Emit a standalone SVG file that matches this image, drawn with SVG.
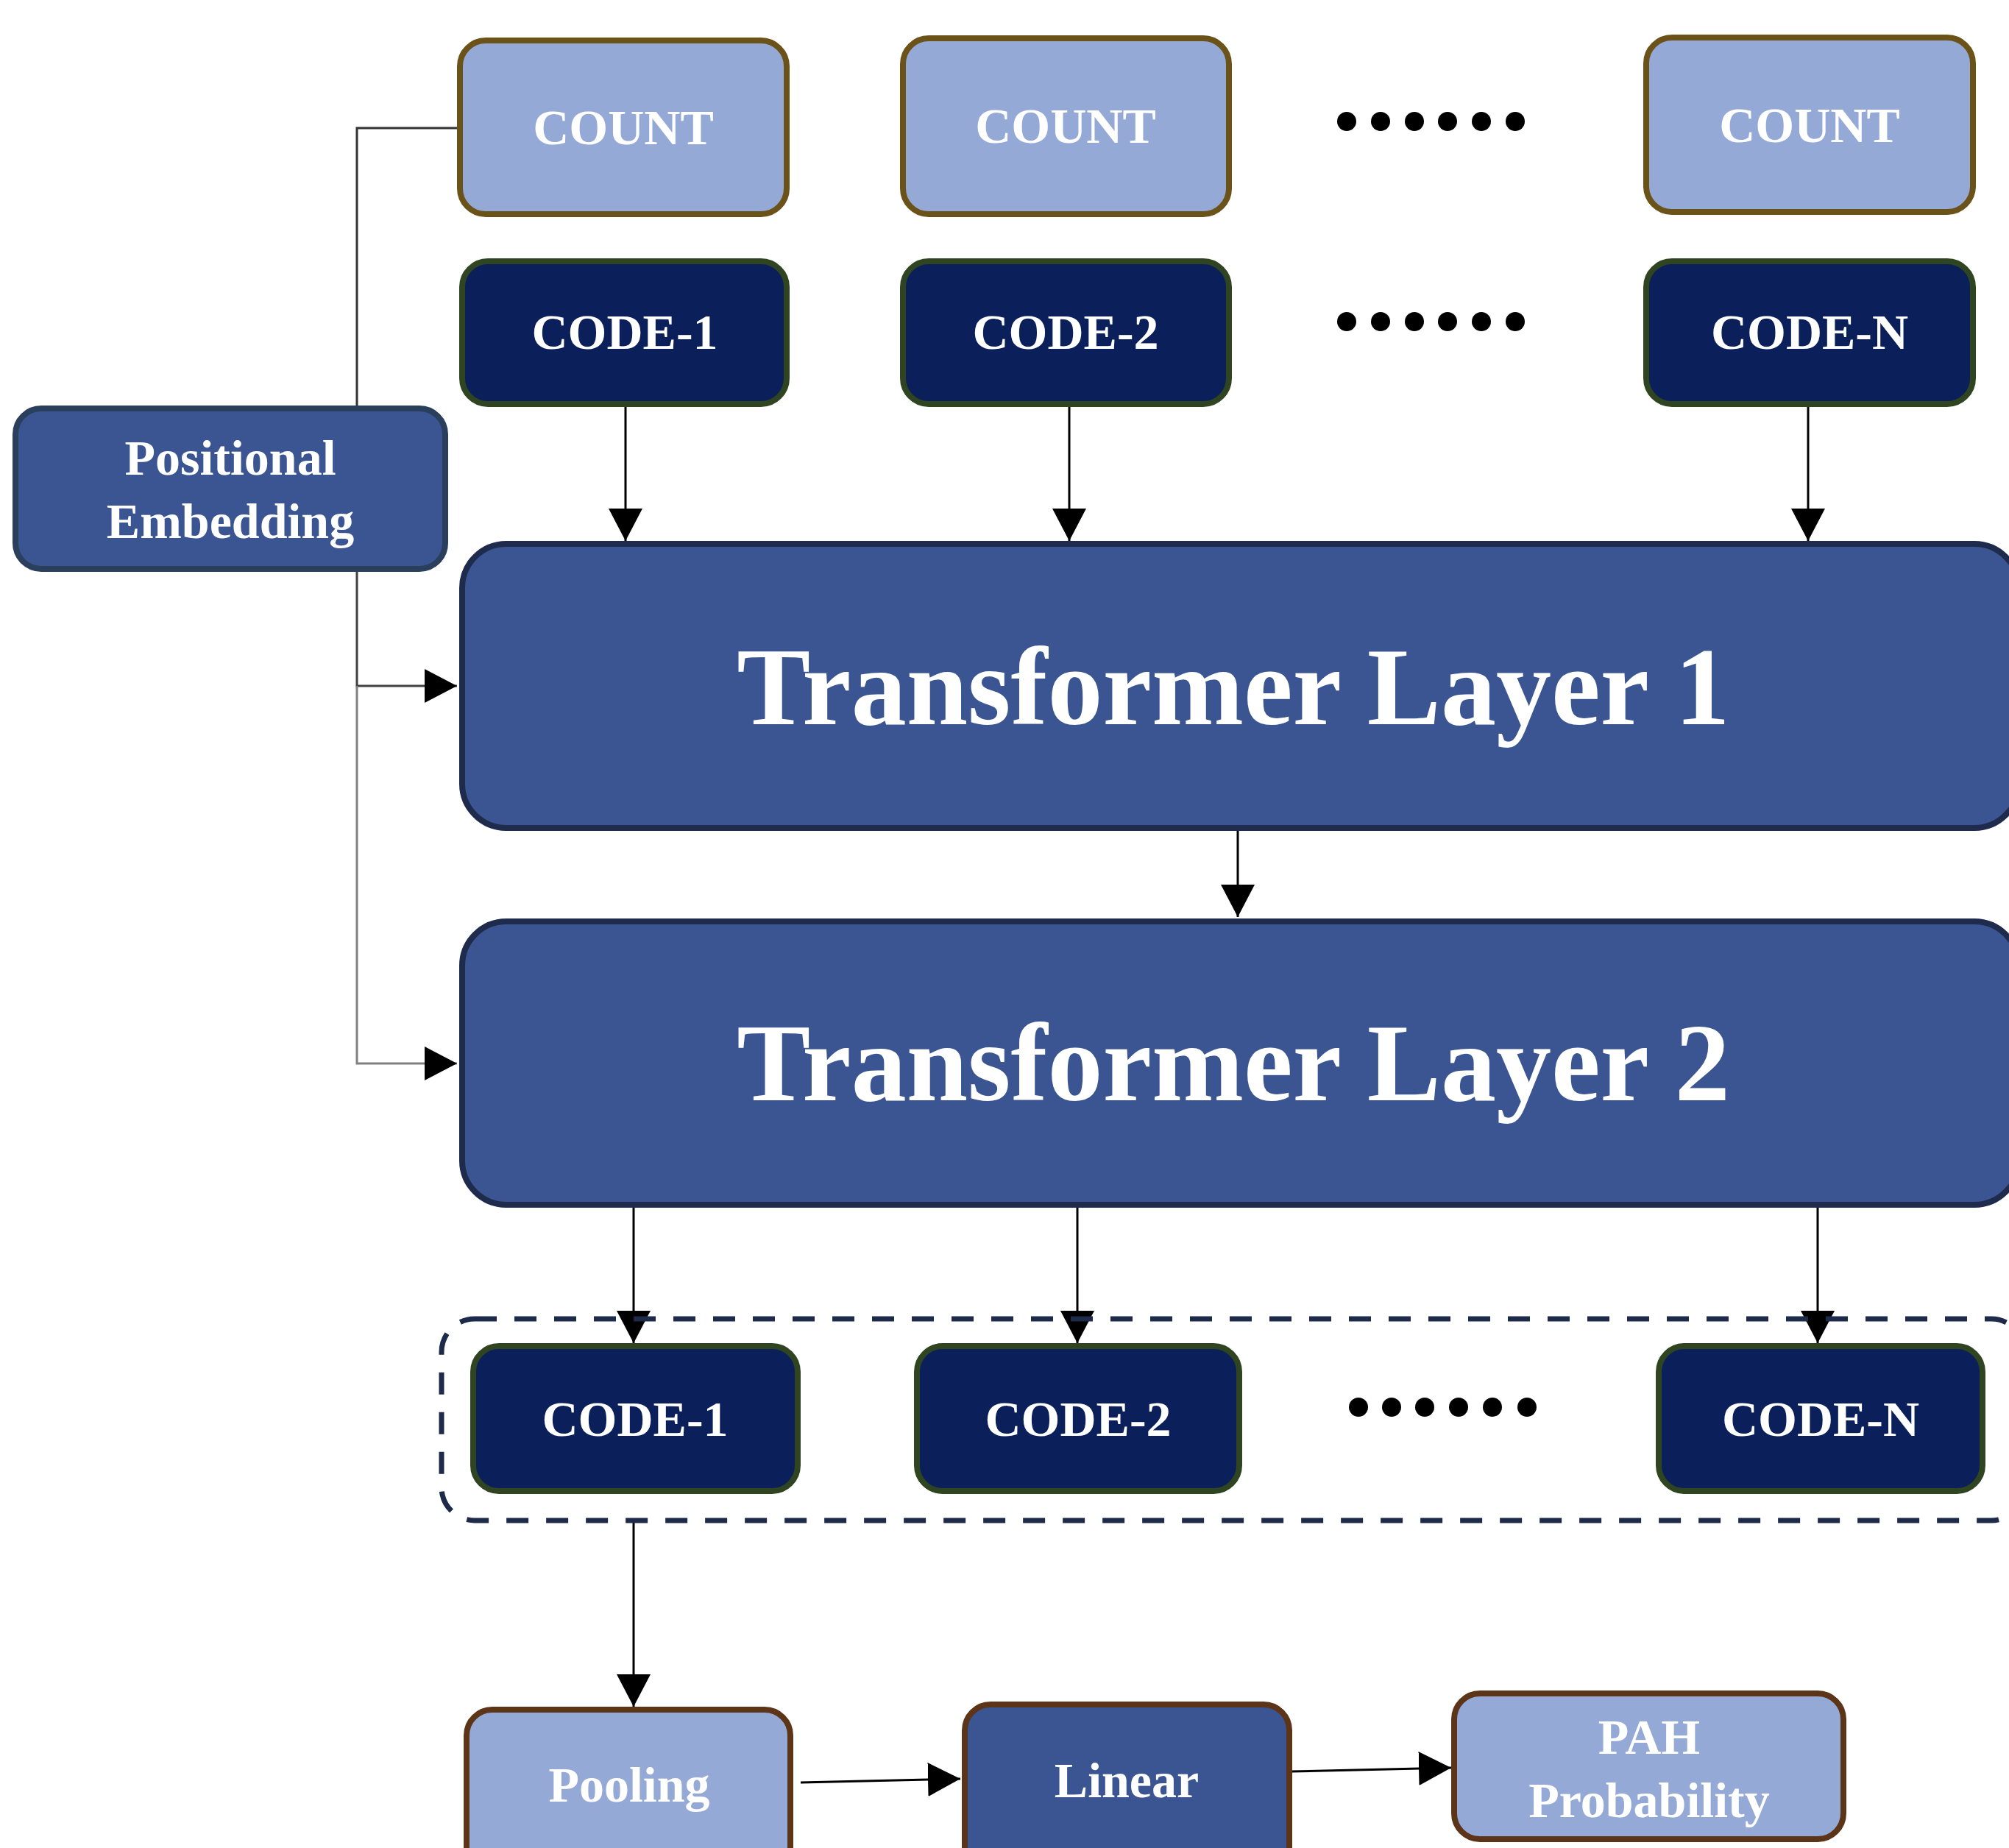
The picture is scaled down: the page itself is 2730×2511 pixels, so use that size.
<svg xmlns="http://www.w3.org/2000/svg" width="2730" height="2511" viewBox="0 0 2730 2511">
<style>
.t{font-family:"Liberation Serif","Times New Roman",serif;font-weight:bold;fill:#ffffff;text-anchor:middle}
.s{font-size:68px}
.big{font-size:150px}
.count{fill:#95a9d6;stroke:#6b5219;stroke-width:8}
.code{fill:#0b1f5a;stroke:#2f4420;stroke-width:8}
.tl{fill:#3a5591;stroke:#1f2b4d;stroke-width:8}
.pe{fill:#3a5591;stroke:#2a3f5c;stroke-width:8}
.lt{fill:#95a9d6;stroke:#5c3418;stroke-width:8}
.dk{fill:#3a5591;stroke:#5c3418;stroke-width:8}
.c{fill:none;stroke:#000;stroke-width:3}
.dot{fill:#000}
</style>
<defs>
<marker id="ah" markerUnits="userSpaceOnUse" markerWidth="46" markerHeight="46" viewBox="0 0 46 46" refX="44" refY="23" orient="auto">
<path d="M0,0 L44,23 L0,46 Z" fill="#000"/>
</marker>
</defs>
<rect width="2730" height="2511" fill="#ffffff"/>

<g id="connectors">
<path class="c" d="M621,174 H485 V554" style="stroke:#333"/>
<path class="c" d="M485,777 V932 H621" style="stroke:#404040" marker-end="url(#ah)"/>
<path class="c" d="M485,932 V1445 H621" style="stroke:#808080" marker-end="url(#ah)"/>
<line class="c" x1="850" y1="553" x2="850" y2="735" marker-end="url(#ah)"/>
<line class="c" x1="1453" y1="553" x2="1453" y2="735" marker-end="url(#ah)"/>
<line class="c" x1="2457" y1="553" x2="2457" y2="735" marker-end="url(#ah)"/>
<line class="c" x1="1682" y1="1128" x2="1682" y2="1246" marker-end="url(#ah)"/>
<line class="c" x1="861" y1="1641" x2="861" y2="1825" marker-end="url(#ah)"/>
<line class="c" x1="1464" y1="1641" x2="1464" y2="1825" marker-end="url(#ah)"/>
<line class="c" x1="2470" y1="1641" x2="2470" y2="1825" marker-end="url(#ah)"/>
<line class="c" x1="861" y1="2066" x2="861" y2="2319" marker-end="url(#ah)"/>
<line class="c" x1="1088" y1="2422" x2="1305" y2="2417" marker-end="url(#ah)"/>
<line class="c" x1="1755" y1="2407" x2="1972" y2="2402" marker-end="url(#ah)"/>
</g>

<g id="count1"><rect class="count" x="625" y="55" width="444" height="236" rx="35"/><text class="t s" x="847" y="196">COUNT</text></g>
<g id="count2"><rect class="count" x="1227" y="52" width="443" height="239" rx="35"/><text class="t s" x="1448" y="194">COUNT</text></g>
<g id="count3"><rect class="count" x="2237" y="51" width="444" height="237" rx="35"/><text class="t s" x="2459" y="193">COUNT</text></g>

<g id="dots-top">
<circle class="dot" cx="1830" cy="165" r="13"/><circle class="dot" cx="1876" cy="165" r="13"/><circle class="dot" cx="1922" cy="165" r="13"/><circle class="dot" cx="1967" cy="165" r="13"/><circle class="dot" cx="2013" cy="165" r="13"/><circle class="dot" cx="2059" cy="165" r="13"/>
</g>
<g id="dots-code">
<circle class="dot" cx="1830" cy="437" r="13"/><circle class="dot" cx="1876" cy="437" r="13"/><circle class="dot" cx="1922" cy="437" r="13"/><circle class="dot" cx="1967" cy="437" r="13"/><circle class="dot" cx="2013" cy="437" r="13"/><circle class="dot" cx="2059" cy="437" r="13"/>
</g>

<g id="code1"><rect class="code" x="628" y="355" width="441" height="194" rx="35"/><text class="t s" x="849" y="474">CODE-1</text></g>
<g id="code2"><rect class="code" x="1227" y="355" width="443" height="194" rx="35"/><text class="t s" x="1448" y="474">CODE-2</text></g>
<g id="codeN"><rect class="code" x="2237" y="355" width="444" height="194" rx="35"/><text class="t s" x="2459" y="474">CODE-N</text></g>

<g id="positional"><rect class="pe" x="21" y="555" width="584" height="218" rx="35"/><text class="t s" x="313" y="645">Positional</text><text class="t s" x="313" y="731">Embedding</text></g>

<g id="transformer1"><rect class="tl" x="628" y="739" width="2115" height="386" rx="60"/><text class="t big" x="1676" y="984">Transformer Layer 1</text></g>
<g id="transformer2"><rect class="tl" x="628" y="1252" width="2115" height="385" rx="60"/><text class="t big" x="1676" y="1495">Transformer Layer 2</text></g>

<g id="output-group"><rect x="600" y="1792" width="2151" height="274" rx="45" fill="none" stroke="#1e2a4a" stroke-width="7" stroke-dasharray="30,24"/></g>

<g id="out-code1"><rect class="code" x="643" y="1829" width="441" height="197" rx="35"/><text class="t s" x="863" y="1951">CODE-1</text></g>
<g id="out-code2"><rect class="code" x="1246" y="1829" width="438" height="197" rx="35"/><text class="t s" x="1465" y="1951">CODE-2</text></g>
<g id="out-codeN"><rect class="code" x="2254" y="1829" width="440" height="197" rx="35"/><text class="t s" x="2474" y="1951">CODE-N</text></g>
<g id="dots-out">
<circle class="dot" cx="1846" cy="1912" r="13"/><circle class="dot" cx="1891" cy="1912" r="13"/><circle class="dot" cx="1936" cy="1912" r="13"/><circle class="dot" cx="1982" cy="1912" r="13"/><circle class="dot" cx="2028" cy="1912" r="13"/><circle class="dot" cx="2075" cy="1912" r="13"/>
</g>

<g id="pooling"><rect class="lt" x="634" y="2323" width="440" height="230" rx="35"/><text class="t s" x="855" y="2448">Pooling</text></g>
<g id="linear"><rect class="dk" x="1311" y="2316" width="441" height="230" rx="35"/><text class="t s" x="1531" y="2442">Linear</text></g>
<g id="pah"><rect class="lt" x="1976" y="2301" width="529" height="198" rx="35"/><text class="t s" x="2241" y="2383">PAH</text><text class="t s" x="2241" y="2469">Probability</text></g>
</svg>
